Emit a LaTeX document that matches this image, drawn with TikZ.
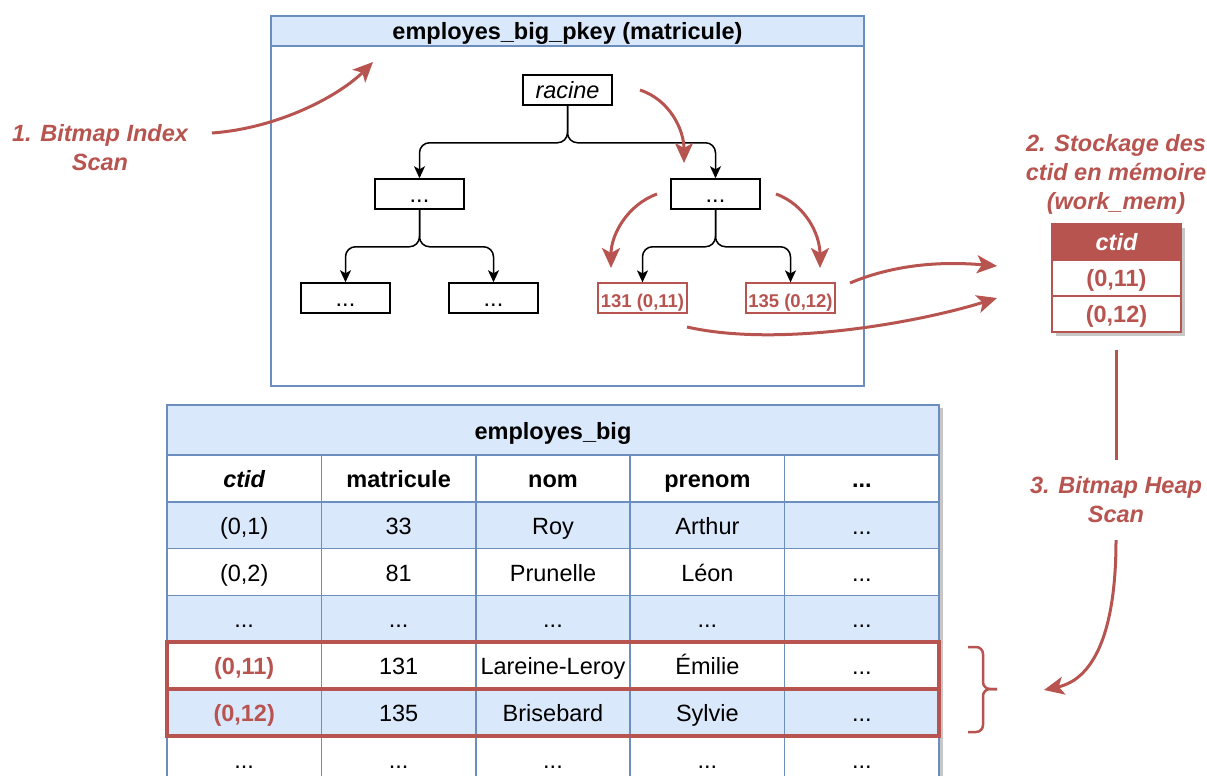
\documentclass[tikz,border=0pt]{standalone}
\usepackage{fontspec}
\setmainfont{Liberation Sans}
\definecolor{tblue}{HTML}{DAE8FC}
\definecolor{tbord}{HTML}{6C8EBF}
\definecolor{tred}{HTML}{B85450}
\usetikzlibrary{arrows.meta, positioning}
\newcommand{\bigtxt}{\fontsize{23.5}{29}\selectfont}
\newcommand{\smalltxt}{\fontsize{18.5}{22}\selectfont}
\newcommand{\ddd}{...}

\begin{document}
\begin{tikzpicture}[
    x=1pt, y=-1pt,
    frame/.style={draw=tbord, line width=1.5pt, inner sep=0pt, outer sep=0pt},
    head/.style={frame, fill=tblue, font=\bigtxt\bfseries,
                 text height=18pt, text depth=0pt},
    tbox/.style={draw=black, line width=1.5pt, fill=white, minimum width=89pt,
                 minimum height=30pt, inner sep=0pt, font=\bigtxt,
                 text height=17pt, text depth=0pt},
    rbox/.style={tbox, draw=tred, line width=1.2pt, text=tred,
                 font=\smalltxt\bfseries, text height=18pt},
    cell/.style={frame, minimum width=154.4pt, minimum height=46.8pt,
                 font=\bigtxt, text height=18pt, text depth=0pt},
    ccell/.style={draw=tred, line width=1.5pt, fill=white, minimum width=129pt,
                  minimum height=36pt, inner sep=0pt, outer sep=0pt, text=tred,
                  font=\bigtxt\bfseries, text height=17pt, text depth=0pt},
    stagelbl/.style={text=tred, font=\bigtxt\bfseries\itshape, align=center},
    tarr/.style={-{Stealth[length=12pt, width=11pt, inset=3pt]},
                 line width=1.5pt, rounded corners=10pt},
    rarr/.style={-{Stealth[length=20pt, width=18pt, inset=5pt]},
                 line width=3pt, tred},
    rline/.style={line width=3pt, tred},
    hilite/.style={draw=tred, line width=4.5pt}
  ]
  \clip (0,0) rectangle (1207,776);

  % index box
  \node[frame, minimum width=593pt, minimum height=370pt] (idx) at (567.5,201) {};
  \node[head, minimum width=593pt, minimum height=30pt, below=0pt of idx.north]
    (idxhead) {employes\_big\_pkey (matricule)};

  \node[tbox, font=\bigtxt\itshape, text height=16pt] (racine) at (567.5,90) {racine};
  \node[tbox] (n1) at (419.5,194) {\ddd};
  \node[tbox] (n2) at (715.5,194) {\ddd};
  \node[tbox] (n11) at (345.5,298) {\ddd};
  \node[tbox] (n12) at (493.5,298) {\ddd};
  \node[rbox] (k131) at (642.5,298) {131 (0,11)};
  \node[rbox] (k135) at (790.5,298) {135 (0,12)};

  \draw[tarr] (racine.south) -- ++(0,37) -| (n1.north);
  \draw[tarr] (racine.south) -- ++(0,37) -| (n2.north);
  \draw[tarr] (n1.south) -- ++(0,37) -| (n11.north);
  \draw[tarr] (n1.south) -- ++(0,37) -| (n12.north);
  \draw[tarr] (n2.south) -- ++(0,37) -| (k131.north);
  \draw[tarr] (n2.south) -- ++(0,37) -| (k135.north);

  % table
  \fill[black!22] (170,408) rectangle (943,780);
  \node[head, minimum width=772pt, minimum height=50pt] (tbl) at (553,430) {employes\_big};
  \foreach \ry/\rf/\ca/\cb/\cc/\cd/\ce [count=\i] in {
      478.4/white/{\bfseries\itshape ctid}/{\bfseries matricule}/{\bfseries nom}/{\bfseries prenom}/{\bfseries\ddd},
      525.2/tblue/{(0,1)}/33/Roy/Arthur/\ddd,
      572.0/white/{(0,2)}/81/Prunelle/Léon/\ddd,
      618.8/tblue/\ddd/\ddd/\ddd/\ddd/\ddd,
      665.6/white/{\textcolor{tred}{\bfseries (0,11)}}/131/Lareine-Leroy/Émilie/\ddd,
      712.4/tblue/{\textcolor{tred}{\bfseries (0,12)}}/135/Brisebard/Sylvie/\ddd,
      759.2/white/\ddd/\ddd/\ddd/\ddd/\ddd} {
    \node[cell, fill=\rf] (r\i-1) at (244.2,\ry) {\ca};
    \node[cell, fill=\rf, right=0pt of r\i-1] (r\i-2) {\cb};
    \node[cell, fill=\rf, right=0pt of r\i-2] (r\i-3) {\cc};
    \node[cell, fill=\rf, right=0pt of r\i-3] (r\i-4) {\cd};
    \node[cell, fill=\rf, right=0pt of r\i-4] (r\i-5) {\ce};
  }
  \draw[hilite] (r5-1.north west) rectangle (r5-5.south east);
  \draw[hilite] (r6-1.north west) rectangle (r6-5.south east);

  % ctid in work_mem
  \fill[black!22] (1056,228) rectangle (1185,336);
  \node[ccell, fill=tred, text=white, font=\bigtxt\bfseries\itshape] (cth) at (1116.5,242) {ctid};
  \node[ccell, below=0pt of cth] (ct1) {(0,11)};
  \node[ccell, below=0pt of ct1] (ct2) {(0,12)};

  % steps
  \node[stagelbl] (lbl1) at (100,148) {1. Bitmap Index\\Scan};
  \node[stagelbl] (lbl2) at (1116,174) {2. Stockage des\\ctid en mémoire\\(work\_mem)};
  \node[stagelbl] (lbl3) at (1116,499.5) {3. Bitmap Heap\\Scan};

  \coordinate (a1s) at (212,133);  \coordinate (a1e) at (373,62);
  \coordinate (a2s) at (640,90);   \coordinate (a2e) at (684,163);
  \coordinate (a3s) at (657,194);  \coordinate (a3e) at (611,268);
  \coordinate (a4s) at (776,194);  \coordinate (a4e) at (820,268);
  \coordinate (a5s) at (850,283);  \coordinate (a5e) at (997,266);
  \coordinate (a6s) at (687,327);  \coordinate (a6e) at (997,298);
  \coordinate (hs1) at (1116,350); \coordinate (hs2) at (1116,460);
  \coordinate (a7s) at (1116,540); \coordinate (a7e) at (1044,690);

  \draw[rarr] (a1s) .. controls (280,128) and (340,95) .. (a1e);
  \draw[rarr] (a2s) .. controls (670,100) and (684,130) .. (a2e);
  \draw[rarr] (a3s) .. controls (627,205) and (611,235) .. (a3e);
  \draw[rarr] (a4s) .. controls (806,205) and (820,235) .. (a4e);
  \draw[rarr] (a5s) .. controls (900,262) and (950,262) .. (a5e);
  \draw[rarr] (a6s) .. controls (780,348) and (920,322) .. (a6e);
  \draw[rline] (hs1) -- (hs2);
  \draw[rarr] (a7s) .. controls (1116,640) and (1090,680) .. (a7e);

  % brace
  \draw[rline, line width=2.5pt, rounded corners=7pt]
    (968,647) -| (983,689) -- (997,689);
  \draw[rline, line width=2.5pt, rounded corners=7pt]
    (997,689) -| (983,732) -- (968,732);
\end{tikzpicture}
\end{document}
